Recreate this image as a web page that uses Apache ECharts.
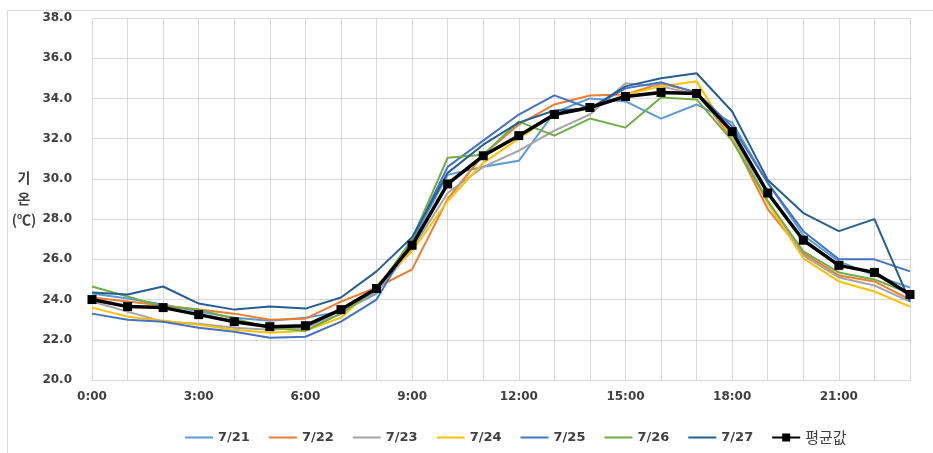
<!DOCTYPE html>
<html>
<head>
<meta charset="utf-8">
<script src="https://cdn.jsdelivr.net/npm/echarts@6/dist/echarts.min.js"></script>
<style>
html,body{margin:0;padding:0;background:#fff;}
#chart{width:933px;height:453px;}
</style>
</head>
<body>
<div id="chart"></div>
<script>
var hours = ['0:00','1:00','2:00','3:00','4:00','5:00','6:00','7:00','8:00','9:00','10:00','11:00','12:00','13:00','14:00','15:00','16:00','17:00','18:00','19:00','20:00','21:00','22:00','23:00'];
var seriesNames = ['7/21','7/22','7/23','7/24','7/25','7/26','7/27','평균값'];
var d0721 = [24.3,24.05,23.75,23.4,23.1,22.95,23.1,23.4,24.3,26.9,30.2,30.6,30.9,33.3,34.0,33.85,33.0,33.7,32.8,29.8,27.2,25.9,25.2,24.6];
var d0722 = [24.1,23.9,23.7,23.5,23.3,23.0,23.05,23.9,24.6,25.5,29.0,31.2,32.7,33.7,34.15,34.2,34.75,34.3,32.0,28.5,26.3,25.2,24.9,24.0];
var d0723 = [23.9,23.4,22.9,22.8,22.6,22.5,22.6,23.3,24.4,26.5,29.3,30.6,31.4,32.4,33.2,34.75,34.6,34.2,32.2,28.9,26.2,25.1,24.7,23.9];
var d0724 = [23.6,23.15,22.95,22.75,22.5,22.35,22.45,23.1,24.7,26.4,28.9,30.8,32.0,33.2,33.5,34.2,34.6,34.85,32.0,28.8,26.05,24.9,24.4,23.65];
var d0725 = [23.3,23.0,22.9,22.6,22.4,22.1,22.15,22.9,24.0,27.0,30.6,31.9,33.2,34.15,33.5,34.5,34.8,34.3,32.6,29.8,27.4,26.0,26.0,25.4];
var d0726 = [24.65,24.15,23.65,23.5,23.05,22.6,22.45,23.3,24.5,27.0,31.05,31.2,32.85,32.15,33.0,32.55,34.05,33.95,31.9,28.9,26.4,25.35,25.0,24.3];
var d0727 = [24.35,24.25,24.65,23.8,23.5,23.65,23.55,24.1,25.4,27.1,30.3,31.7,32.8,33.4,33.5,34.6,35.0,35.25,33.35,29.95,28.3,27.4,28.0,23.9];
var dAvg  = [24.0,23.65,23.6,23.25,22.9,22.65,22.7,23.5,24.55,26.7,29.75,31.15,32.15,33.2,33.55,34.1,34.3,34.25,32.35,29.3,26.95,25.7,25.35,24.25];
var yMin = 20, yMax = 38, yStep = 2;

var colors = ['#5B9BD5','#ED7D31','#A5A5A5','#FFC000','#4472C4','#70AD47','#255E91','#000000'];
var dataSets = [d0721,d0722,d0723,d0724,d0725,d0726,d0727,dAvg];
var avgIndex = dataSets.length - 1;

var series = dataSets.map(function(d, i){
  var isAvg = i === avgIndex;
  return {
    name: seriesNames[i],
    type: 'line',
    data: d,
    symbol: isAvg ? 'rect' : 'none',
    symbolSize: isAvg ? 9 : 0,
    z: isAvg ? 10 : 2,
    lineStyle: {width: isAvg ? 3.5 : 2, color: colors[i]},
    itemStyle: {color: colors[i]}
  };
});

var legendData = seriesNames.map(function(n, i){
  if (i === avgIndex) return {name: n};
  return {name: n, itemStyle: {color: 'rgba(0,0,0,0)', borderColor: 'rgba(0,0,0,0)', borderWidth: 0}};
});

var chart = echarts.init(document.getElementById('chart'), null, {renderer:'canvas'});
chart.setOption({
  animation: false,
  backgroundColor: '#fff',
  graphic: [{
    type: 'rect', silent: true, z: -1,
    shape: {x: 7.5, y: 10.5, width: 1000, height: 1000},
    style: {fill: 'none', stroke: '#d9d9d9', lineWidth: 1}
  }],
  grid: {left: 92, right: 23, top: 18, bottom: 73},
  legend: {
    data: legendData,
    left: 179, top: 425,
    itemWidth: 28, itemHeight: 10, itemGap: 18,
    textStyle: {fontFamily: 'DejaVu Sans', fontWeight: 'bold', fontSize: 13, color: '#404040',
      rich: {k: {fontFamily: 'Noto Sans CJK KR', fontWeight: 'normal', fontSize: 15, color: '#404040'}}},
    formatter: function(n){ return n === '평균값' ? '{k|' + n + '}' : n; }
  },
  xAxis: {
    type: 'category',
    data: hours,
    boundaryGap: false,
    axisLine: {lineStyle: {color: '#d9d9d9'}},
    axisTick: {show: false},
    axisLabel: {interval: 2, margin: 11, fontFamily: 'DejaVu Sans', fontWeight: 'bold', fontSize: 12, color: '#404040'},
    splitLine: {show: true, interval: 0, lineStyle: {color: '#d9d9d9'}}
  },
  yAxis: {
    type: 'value',
    min: yMin, max: yMax, interval: yStep,
    name: '기\n온\n(℃)',
    nameLocation: 'middle',
    nameRotate: 0,
    nameGap: 68,
    nameTextStyle: {align: 'center', verticalAlign: 'middle', fontFamily: 'Noto Sans CJK KR', fontWeight: 'bold', fontSize: 14, lineHeight: 21, color: '#404040'},
    axisLine: {show: false},
    axisTick: {show: false},
    axisLabel: {margin: 20, fontFamily: 'DejaVu Sans', fontWeight: 'bold', fontSize: 12, color: '#404040',
      formatter: function(v){ return v.toFixed(1); }},
    splitLine: {show: true, lineStyle: {color: '#d9d9d9'}}
  },
  series: series
});
</script>
</body>
</html>
